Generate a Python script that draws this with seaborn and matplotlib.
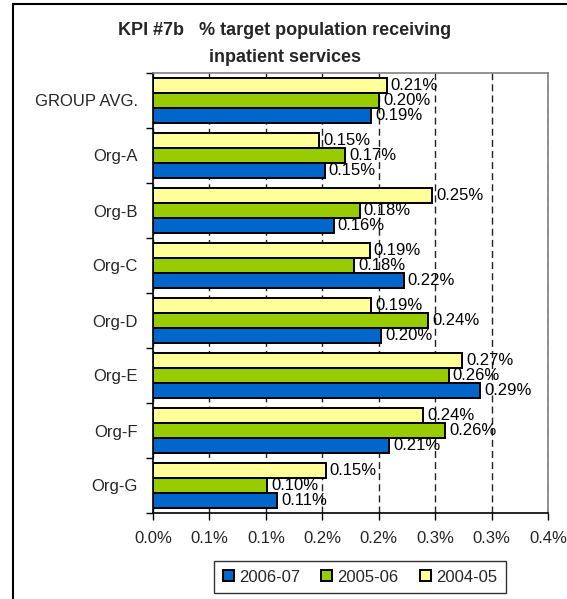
import matplotlib.pyplot as plt
import numpy as np
import pandas as pd
import seaborn as sns
from matplotlib.patches import Rectangle

# values are in percent
orgs = ["GROUP AVG.", "Org-A", "Org-B", "Org-C", "Org-D", "Org-E", "Org-F", "Org-G"]
years = ["2004-05", "2005-06", "2006-07"]
pct_2004_05 = [0.207, 0.147, 0.247, 0.192, 0.193, 0.274, 0.239, 0.153]
pct_2005_06 = [0.200, 0.170, 0.183, 0.178, 0.244, 0.262, 0.259, 0.101]
pct_2006_07 = [0.193, 0.152, 0.160, 0.222, 0.202, 0.290, 0.209, 0.110]
x_ticks = [0.0, 0.05, 0.10, 0.15, 0.20, 0.25, 0.30, 0.35]
x_tick_labels = ["0.0%", "0.1%", "0.1%", "0.2%", "0.2%", "0.3%", "0.3%", "0.4%"]
colors = {"2006-07": "#0066CC", "2005-06": "#99CC00", "2004-05": "#FFFF99"}

sns.set_theme(style="white")
plt.rcParams["font.family"] = ["Liberation Sans", "DejaVu Sans"]

df = pd.DataFrame({
	"org": orgs,
	"2004-05": pct_2004_05,
	"2005-06": pct_2005_06,
	"2006-07": pct_2006_07,
}).melt(id_vars="org", var_name="year", value_name="pct")

fig, ax = plt.subplots(figsize=(5.67, 5.99), dpi=100)
fig.subplots_adjust(left=153 / 567, right=548 / 567, top=1 - 73 / 599, bottom=1 - 513 / 599)

sns.barplot(
	data=df, y="org", x="pct", hue="year", order=orgs, hue_order=years,
	palette=colors, orient="h", width=0.82, edgecolor="black", linewidth=1.4,
	saturation=1, errorbar=None, ax=ax,
)

for container in ax.containers:
	ax.bar_label(container, fmt="{:.2f}%", padding=3, fontsize=12, color="black")

ax.set_xlim(0, 0.35)
ax.set_ylim(len(orgs) - 0.5, -0.5)
ax.set_xticks(x_ticks)
ax.set_xticklabels(x_tick_labels, fontsize=12)
ax.set_xlabel("")
ax.set_ylabel("")
ax.grid(axis="x", color="#222222", linestyle=(0, (5, 3)), linewidth=1)
ax.set_axisbelow(True)

ax.tick_params(axis="x", bottom=True, length=5, width=1, color="black", pad=8)
ax.tick_params(axis="y", which="major", left=True, length=0, pad=11, labelsize=12)
ax.set_yticks(np.arange(-0.5, len(orgs), 1), minor=True)
ax.tick_params(axis="y", which="minor", left=True, length=5, width=1, color="black")

for side in ["top", "right"]:
	ax.spines[side].set_color("#808080")
	ax.spines[side].set_linewidth(1.2)
for side in ["left", "bottom"]:
	ax.spines[side].set_color("black")
	ax.spines[side].set_linewidth(1.2)

handles, labels = ax.get_legend_handles_labels()
ax.legend(
	handles[::-1], labels[::-1], ncol=3, loc="center",
	bbox_to_anchor=(360 / 567, 1 - 577 / 599), bbox_transform=fig.transFigure,
	frameon=True, fancybox=False, edgecolor="black", fontsize=12,
	handlelength=0.66, handleheight=0.66, handletextpad=0.3,
	columnspacing=1.3, borderpad=0.5,
).get_frame().set_linewidth(1)

fig.suptitle(
	"KPI #7b   % target population receiving\ninpatient services",
	x=285 / 567, y=1 - 22 / 599, va="top", fontsize=13, fontweight="bold", linespacing=1.75,
)

fig.add_artist(Rectangle(
	(13 / 567, -0.1), 1.0, 1.1 - 4.5 / 599, transform=fig.transFigure,
	fill=False, edgecolor="black", linewidth=1.5,
))

fig.savefig("out.png", dpi=100)
plt.close(fig)
